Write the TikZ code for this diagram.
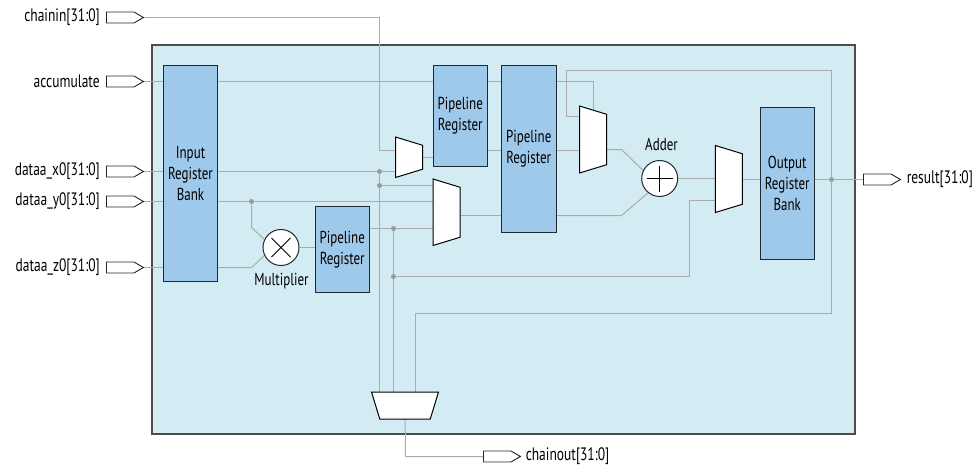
\documentclass[tikz,border=0pt]{standalone}
\usepackage{fontspec}
\setmainfont[FakeStretch=0.75]{PT Sans}
\usetikzlibrary{shapes.geometric,shapes.symbols,calc}
\pgfdeclarelayer{boxlayer}
\pgfdeclarelayer{wirelayer}
\pgfsetlayers{boxlayer,wirelayer,main}
\def\pxu{0.75pt}
\definecolor{panelblue}{HTML}{D3ECF3}
\definecolor{regblue}{HTML}{9FC9EA}
\definecolor{wiregray}{HTML}{ABABAB}
\definecolor{edgedark}{HTML}{1F2A30}
\tikzset{
  txt/.style={inner sep=0pt,font=\fontsize{13}{15.75}\selectfont,text=black},
  regbox/.style={txt,draw=edgedark,fill=regblue,line width=0.75pt,align=center,rectangle},
  muxbase/.style={shape=trapezium,trapezium angle=73,draw=black,fill=white,line width=0.75pt,
     inner sep=0pt,outer sep=0pt,text height=20.25pt,text depth=0pt},
  muxr/.style={muxbase,rotate=-90},
  muxd/.style={muxbase,rotate=180,text width=37.875pt},
  port/.style={shape=signal,signal to=east,signal pointer angle=60,draw=edgedark,fill=white,line width=0.7pt,
     minimum width=37*\pxu,minimum height=11*\pxu,inner sep=0pt,anchor=west},
  opc/.style={circle,draw=edgedark,fill=white,line width=0.75pt,minimum size=36*\pxu,inner sep=0pt},
  wire/.style={draw=wiregray,line width=0.75pt},
  dot/.style={circle,fill=wiregray!90!black,inner sep=0pt,minimum size=5*\pxu},
  lbl/.style={txt,anchor=east,font=\fontsize{13.5}{15.75}\selectfont},
}
\begin{document}
\begin{tikzpicture}[x=0.75pt,y=-0.75pt]
\useasboundingbox (0,0) rectangle (976,465);
% ports
\node[port] (pchain) at (106,17.5) {};
\node[port] (pacc) at (106,81.5) {};
\node[port] (px) at (106,171.5) {};
\node[port] (py) at (106,201.5) {};
\node[port] (pz) at (106,267.5) {};
\node[port] (pres) at (863,179.5) {};
\node[port] (pcout) at (483,456.5) {};
% port labels
\node[lbl] (lchain) at (100,17.5) {chainin[31:0]};
\node[lbl] (lacc) at (100,81) {accumulate};
\node[lbl] (lx) at (100,171.5) {dataa\_x0[31:0]};
\node[lbl] (ly) at (100,201) {dataa\_y0[31:0]};
\node[lbl] (lz) at (100,267) {dataa\_z0[31:0]};
\node[lbl,anchor=west] (lres) at (906.5,179.5) {result[31:0]};
\node[lbl,anchor=west] (lcout) at (525.5,456) {chainout[31:0]};
% registers
\node[regbox,minimum width=54*\pxu,minimum height=216*\pxu] (bank) at (190.5,173) {Input\\Register\\Bank};
\node[regbox,minimum width=54*\pxu,minimum height=86.5*\pxu] (pipeA) at (342.25,249.25) {Pipeline\\Register};
\node[regbox,minimum width=54*\pxu,minimum height=101*\pxu] (pipeB) at (460.25,115.5) {Pipeline\\Register};
\node[regbox,minimum width=54.5*\pxu,minimum height=167.5*\pxu] (pipeC) at (528.75,148.75) {Pipeline\\Register};
\node[regbox,minimum width=54.5*\pxu,minimum height=152.5*\pxu] (outbank) at (787.25,183.25) {Output\\Register\\Bank};
% muxes
\node[muxr,text width=18pt] (mA) at (409,157.25) {};
\node[muxr,text width=37.5pt] (mB) at (446.5,212.25) {};
\node[muxr,text width=37.875pt] (mC) at (593,139.5) {};
\node[muxr,text width=37.875pt] (mD) at (728.9,179) {};
\node[muxd] (mE) at (405,405.5) {};
% operators
\node[opc,path picture={\draw[black,line width=0.75pt]
  ($(path picture bounding box.center)+(-9.5,-9.5)$) -- ++(19,19)
  ($(path picture bounding box.center)+(-9.5,9.5)$) -- ++(19,-19);}] (mult) at (281,247.5) {};
\node[opc,path picture={\draw[black,line width=0.75pt]
  ($(path picture bounding box.center)+(-13,0)$) -- ++(26,0)
  ($(path picture bounding box.center)+(0,-13)$) -- ++(0,26);}] (add) at (659.7,178.5) {};
\node[txt] (lmult) at (281.5,281) {Multiplier};
\node[txt] (ladd) at (661.5,144) {Adder};
% junction dots
\node[dot] (dxa) at (379.5,171.5) {};
\node[dot] (dxb) at (379.5,185.5) {};
\node[dot] (dy) at (251.5,201.5) {};
\node[dot] (dpa) at (393.5,228.5) {};
\node[dot] (dpb) at (393.5,276.5) {};
\node[dot] (dout) at (831.5,179.5) {};
% bends
\coordinate (cA) at (379.5,150.5);
\coordinate (fbA) at (566.5,116.5);
\coordinate (fbB) at (566.5,70.5);
\coordinate (fbC) at (831.5,70.5);
\coordinate (fbD) at (831.5,313.5);
\coordinate (fbE) at (415.5,313.5);
\coordinate (tapAcc) at (593.5,81.5);
\coordinate (dmA) at (251.5,227.5);
\coordinate (dmB) at (251.5,267.5);
\coordinate (daA) at (621.5,149.5);
\coordinate (daB) at (621.5,215.5);
\coordinate (fA) at (689.5,276.5);
\coordinate (fB) at (689.5,200.5);
\coordinate (botA) at (405.5,456.5);
\begin{pgfonlayer}{boxlayer}
  \node[draw=black!70,fill=panelblue,line width=0.8pt,minimum width=703*\pxu,minimum height=389*\pxu,inner sep=0pt] (panel) at (503.5,239.5) {};
\end{pgfonlayer}
\begin{pgfonlayer}{wirelayer}
  % chain in
  \draw[wire] (pchain.east) -| (cA) -- (cA -| mA.center);
  % accumulate
  \draw[wire] (pacc.east) -- (pacc.east -| bank.west);
  \draw[wire] (bank.east |- pacc) -- (pipeB.west |- pacc);
  \draw[wire] (pipeB.east |- pacc) -- (pipeC.west |- pacc);
  \draw[wire] (pipeC.east |- pacc) -- (tapAcc) -- (tapAcc |- mC.center);
  % x
  \draw[wire] (px.east) -- (px.east -| bank.west);
  \draw[wire] (bank.east |- px) -- (dxa) -- (dxa -| mA.center);
  \draw[wire] (dxa) -- (dxb) -- (dxb -| mB.center);
  \draw[wire] (dxb) -- (dxb |- mE.center);
  % y
  \draw[wire] (py.east) -- (py.east -| bank.west);
  \draw[wire] (bank.east |- py) -- (dy) -- (dy -| mB.center);
  \draw[wire] (dy) -- (dmA) -- (mult.154);
  % z
  \draw[wire] (pz.east) -- (pz.east -| bank.west);
  \draw[wire] (bank.east |- pz) -- (dmB) -- (mult.206);
  % multiplier
  \draw[wire] (mult.east) -- (mult.east -| pipeA.west);
  \draw[wire] (pipeA.east |- dpa) -- (dpa) -- (dpa -| mB.center);
  \draw[wire] (dpa) -- (dpa |- mE.center);
  \draw[wire] (dpb) -- (fA) -- (fB) -- (fB -| mD.center);
  % mux A
  \draw[wire] (mA.center) -- (mA.center -| pipeB.west);
  \draw[wire] (pipeB.east |- cA) -- (pipeC.west |- cA);
  \draw[wire] (pipeC.east |- cA) -- (cA -| mC.center);
  % mux B
  \draw[wire] (mB.center |- daB) -- (daB -| pipeC.west);
  \draw[wire] (pipeC.east |- daB) -- (daB) -- (add.231);
  % mux C
  \draw[wire] (mC.center |- daA) -- (daA) -- (add.154);
  % adder, mux D, output
  \draw[wire] (add.east) -- (add.east -| mD.center);
  \draw[wire] (mD.center |- dout) -- (dout -| outbank.west);
  \draw[wire] (outbank.east |- dout) -- (pres.west |- dout);
  % feedback
  \draw[wire] (fbA -| mC.center) -- (fbA) -- (fbB) -- (fbC) -- (fbD) -- (fbE) -- (fbE |- mE.center);
  % chainout
  \draw[wire] (mE.center) -- (botA) -- (pcout.west);
\end{pgfonlayer}
\end{tikzpicture}
\end{document}
